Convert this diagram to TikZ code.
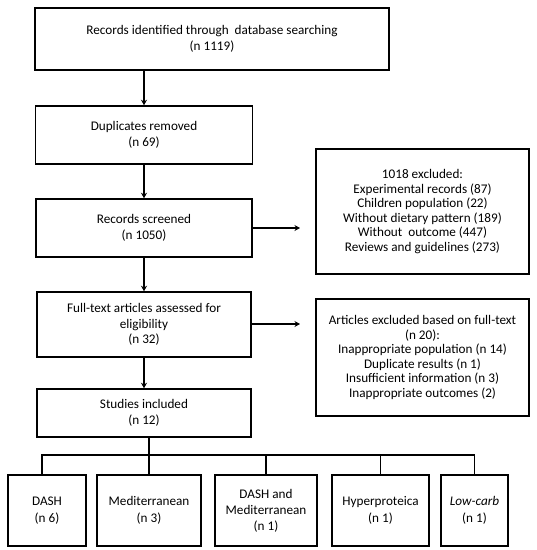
\documentclass[tikz,border=0pt]{standalone}
\usepackage{fontspec}
\setmainfont{Carlito}
\usetikzlibrary{arrows.meta}
\begin{document}
\begin{tikzpicture}[x=1pt,y=-1pt,
  box/.style={draw, line width=1.5pt, align=center, inner sep=0pt,
    font=\fontsize{13.2}{14.6}\selectfont},
  conn/.style={line width=1.5pt},
  arr/.style={conn, -{Stealth[length=5.5pt,width=6pt]}}]
\useasboundingbox (0,0) rectangle (537,550);
\node[box, minimum width=354pt, minimum height=62pt] (b1) at (212,39) {Records identified through\ \ database searching\\[1pt](n 1119)};
\node[box, minimum width=217pt, minimum height=58pt] (b2) at (144,135) {Duplicates removed\\[1pt](n 69)};
\node[box, minimum width=216pt, minimum height=58pt] (b3) at (144,228) {Records screened\\[1pt](n 1050)};
\node[box, minimum width=214pt, minimum height=65pt] (b4) at (144,324.5) {Full-text articles assessed for\\[1pt]eligibility\\[1pt](n 32)};
\node[box, minimum width=214pt, minimum height=48pt] (b5) at (144,413) {Studies included\\[1pt](n 12)};
\node[box, minimum width=213pt, minimum height=125pt] (e1) at (422.5,211.5) {1018 excluded:\\Experimental\ records (87)\\Children population\ (22)\\Without dietary pattern (189)\\Without\ \ outcome\ (447)\\Reviews and guidelines (273)};
\node[box, minimum width=213pt, minimum height=117pt] (e2) at (422.5,357.5) {Articles excluded based on full-text\\(n 20):\\Inappropriate\ population\ (n 14)\\Duplicate results (n 1)\\Insufficient information\ (n 3)\\Inappropriate\ outcomes\ (2)};
\node[box, minimum width=78pt, minimum height=71pt] (dash) at (47,510.5) {DASH\\[2pt](n 6)};
\node[box, minimum width=104pt, minimum height=71pt] (med) at (149,510.5) {Mediterranean\\[2pt](n 3)};
\node[box, minimum width=102pt, minimum height=71pt] (dm) at (266,510.5) {DASH and\\[1.5pt]Mediterranean\\[1.5pt](n 1)};
\node[box, minimum width=97pt, minimum height=71pt] (hyp) at (380.5,510.5) {Hyperproteica\\[2pt](n 1)};
\node[box, minimum width=67pt, minimum height=71pt] (lc) at (474.5,510.5) {\textit{Low-carb}\\[2pt](n 1)};
\draw[arr] (b2.north |- b1.south) -- (b2.north);
\draw[arr] (b3.north |- b2.south) -- (b3.north);
\draw[arr] (b4.north |- b3.south) -- (b4.north);
\draw[arr] (b5.north |- b4.south) -- (b5.north);
\coordinate (x1) at (300,228);
\coordinate (x2) at (300,324);
\draw[arr] (b3.east) -- (x1);
\draw[arr] (b4.east |- x2) -- (x2);
\coordinate (hl) at (149,455);
\draw[conn] (b5.south -| med.north) -- (med.north);
\draw[conn] ([xshift=-5pt]dash.north) -- ([xshift=-5pt]dash.north |- hl) -- (lc.north |- hl) -- (lc.north);
\draw[conn] (dm.north) -- (dm.north |- hl);
\draw[conn] (hyp.north) -- (hyp.north |- hl);
\end{tikzpicture}
\end{document}
